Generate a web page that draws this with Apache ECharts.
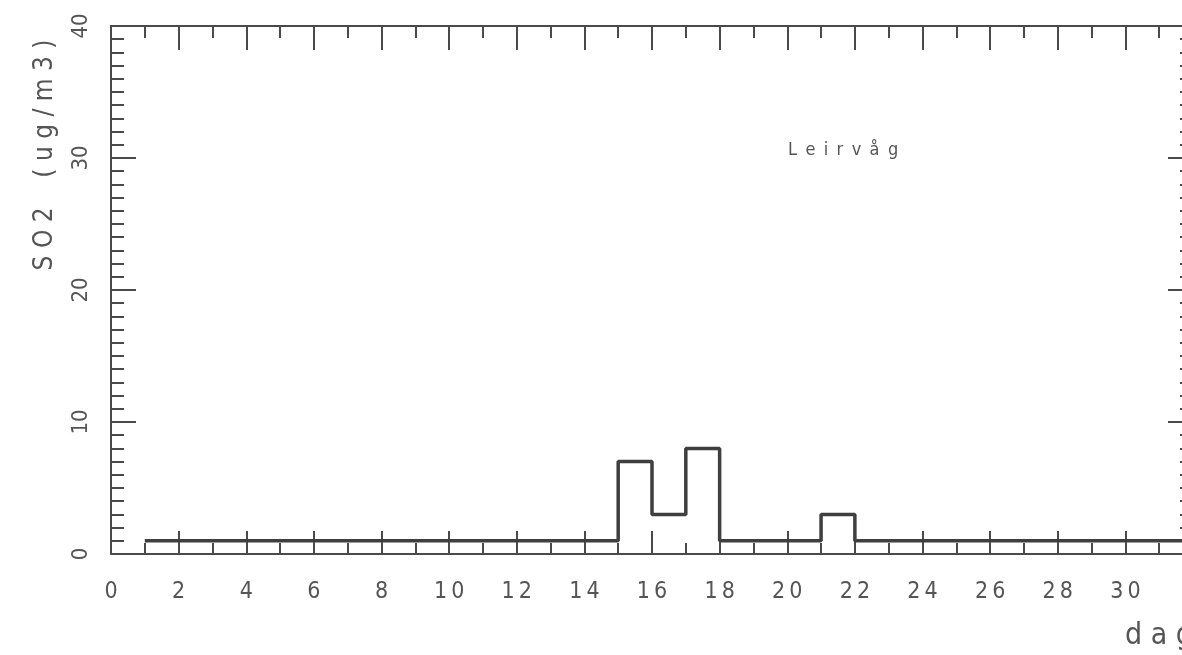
<!DOCTYPE html>
<html>
<head>
<meta charset="utf-8">
<script src="https://cdn.jsdelivr.net/npm/echarts@6/dist/echarts.min.js"></script>
<style>
  html, body { margin: 0; padding: 0; background: #fff; }
  #chart { width: 1182px; height: 655px; }
</style>
</head>
<body>
<div id="chart"></div>
<script>
// Daily mean SO2 at Leirvåg, one value per day (day d covers d..d+1)
const days = [1, 2, 3, 4, 5, 6, 7, 8, 9, 10, 11, 12, 13, 14, 15, 16,
              17, 18, 19, 20, 21, 22, 23, 24, 25, 26, 27, 28, 29, 30, 31];
const so2 = [1, 1, 1, 1, 1, 1, 1, 1, 1, 1, 1, 1, 1, 1, 7, 3,
             8, 1, 1, 1, 3, 1, 1, 1, 1, 1, 1, 1, 1, 1, 1];
const stationName = 'Leirvåg';
const yTitle = 'SO2 (ug/m3)';
const xTitle = 'dag';

const INK = '#4a4a4a';
const TEXT = '#555';
const NARROW = '"DejaVu Sans Condensed", "Liberation Sans Narrow", "Liberation Sans", sans-serif';

// Plotter-style spaced lettering
function spaced(s, gap) {
  return Array.from(s).map(c => (c === ' ' ? gap + gap : c)).join(gap);
}

// Step line: each day's value held until the next day starts
const stepData = days.map((d, i) => [d, so2[i]]);
stepData.push([days[days.length - 1] + 1, so2[so2.length - 1]]);

const tickCommon = {
  axisLine: { show: true, onZero: false, lineStyle: { color: INK, width: 2 } },
  splitLine: { show: false }
};

const chart = echarts.init(document.getElementById('chart'), null, { renderer: 'canvas' });
chart.setOption({
  animation: false,
  backgroundColor: '#fff',
  grid: { left: 111, top: 26, right: -11, bottom: 101, outerBoundsMode: 'none', containLabel: false },
  xAxis: [
    Object.assign({
      type: 'value', position: 'bottom', min: 0, max: 32, interval: 2,
      axisTick: { show: true, inside: true, length: 23, lineStyle: { color: INK, width: 2 } },
      minorTick: { show: true, splitNumber: 2, length: 11, lineStyle: { color: INK, width: 2 } },
      axisLabel: {
        show: true, margin: 27, showMaxLabel: false,
        color: TEXT, fontFamily: NARROW, fontSize: 23,
        formatter: v => spaced(String(v), '\u2009')
      }
    }, tickCommon),
    Object.assign({
      type: 'value', position: 'top', min: 0, max: 32, interval: 2,
      axisTick: { show: true, inside: true, length: 24, lineStyle: { color: INK, width: 2 } },
      minorTick: { show: true, splitNumber: 2, length: 12, lineStyle: { color: INK, width: 2 } },
      axisLabel: { show: false }
    }, tickCommon)
  ],
  yAxis: [
    Object.assign({
      type: 'value', position: 'left', min: 0, max: 40, interval: 10,
      axisTick: { show: true, inside: true, length: 25, lineStyle: { color: INK, width: 2 } },
      minorTick: { show: true, splitNumber: 10, length: 13, lineStyle: { color: INK, width: 2 } },
      axisLabel: {
        show: true, rotate: 90, margin: 19,
        color: TEXT, fontFamily: NARROW, fontSize: 22
      }
    }, tickCommon),
    Object.assign({
      type: 'value', position: 'right', min: 0, max: 40, interval: 10,
      axisTick: { show: true, inside: true, length: 25, lineStyle: { color: INK, width: 2 } },
      minorTick: { show: true, splitNumber: 10, length: 13, lineStyle: { color: INK, width: 2 } },
      axisLabel: { show: false }
    }, tickCommon)
  ],
  series: [{
    type: 'line',
    xAxisIndex: 0,
    yAxisIndex: 0,
    step: 'end',
    data: stepData,
    symbol: 'none',
    lineStyle: { color: '#3f3f3f', width: 3.5 },
    clip: false
  }],
  graphic: [
    {
      type: 'text', x: 45, y: 155, rotation: Math.PI / 2,
      style: {
        text: spaced(yTitle, ' '), fill: TEXT, font: '26px ' + NARROW,
        align: 'center', verticalAlign: 'middle'
      }
    },
    {
      type: 'text', x: 788, y: 150,
      style: {
        text: spaced(stationName, ' \u2009'), fill: TEXT, font: '18px ' + NARROW,
        align: 'left', verticalAlign: 'middle'
      }
    },
    {
      type: 'text', x: 1125, y: 636,
      style: {
        text: spaced(xTitle, ' '), fill: TEXT, font: '30px ' + NARROW,
        align: 'left', verticalAlign: 'middle'
      }
    }
  ]
});
</script>
</body>
</html>
